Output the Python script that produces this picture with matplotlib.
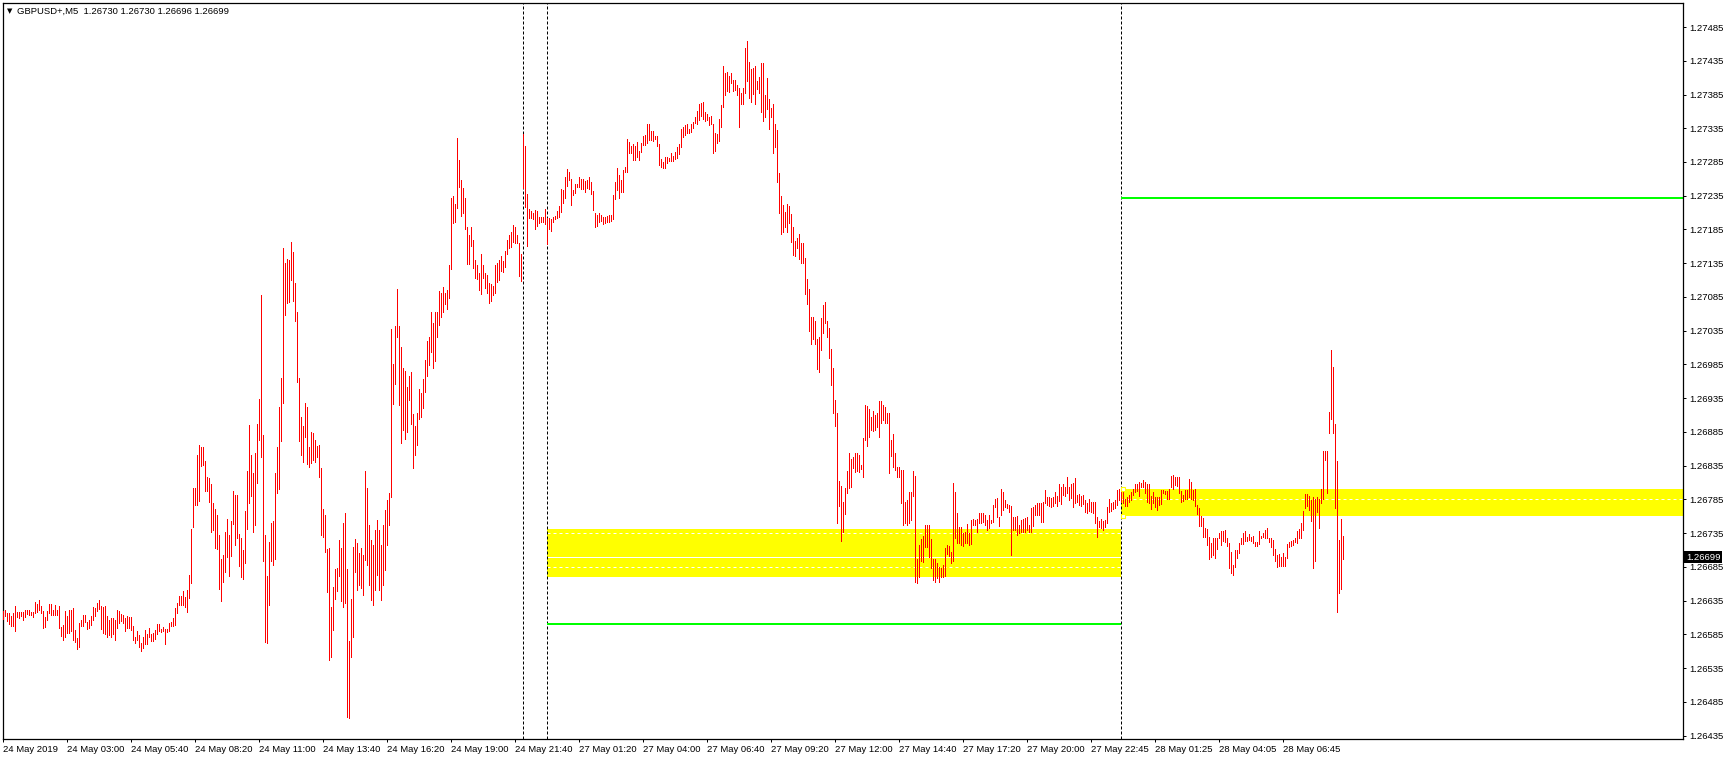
import numpy as np
import matplotlib
matplotlib.use("Agg")
import matplotlib.pyplot as plt
from matplotlib.patches import Rectangle
from matplotlib.transforms import blended_transform_factory

# GBPUSD+ M5 bars, high / low (bar index = x)
bar_high = [
    1.26620, 1.26621, 1.26617, 1.26617, 1.26612, 1.26617, 1.26627, 1.26618, 1.26618, 1.26618,
    1.26618, 1.26621, 1.26621, 1.26621, 1.26618, 1.26618, 1.26633, 1.26630, 1.26636, 1.26627,
    1.26620, 1.26611, 1.26620, 1.26630, 1.26630, 1.26621, 1.26628, 1.26621, 1.26627, 1.26596,
    1.26599, 1.26620, 1.26612, 1.26621, 1.26621, 1.26624, 1.26591, 1.26580, 1.26602, 1.26606,
    1.26614, 1.26614, 1.26603, 1.26606, 1.26612, 1.26625, 1.26624, 1.26631, 1.26636, 1.26627,
    1.26625, 1.26627, 1.26612, 1.26606, 1.26609, 1.26609, 1.26606, 1.26621, 1.26620, 1.26615,
    1.26614, 1.26609, 1.26612, 1.26611, 1.26611, 1.26597, 1.26581, 1.26590, 1.26584, 1.26572,
    1.26581, 1.26591, 1.26585, 1.26594, 1.26585, 1.26587, 1.26591, 1.26600, 1.26600, 1.26593,
    1.26596, 1.26593, 1.26593, 1.26602, 1.26603, 1.26609, 1.26624, 1.26631, 1.26642, 1.26642,
    1.26649, 1.26640, 1.26651, 1.26673, 1.26741, 1.26802, 1.26802, 1.26851, 1.26866, 1.26863,
    1.26863, 1.26842, 1.26818, 1.26817, 1.26808, 1.26780, 1.26771, 1.26762, 1.26732, 1.26697,
    1.26703, 1.26737, 1.26756, 1.26732, 1.26753, 1.26797, 1.26792, 1.26792, 1.26734, 1.26728,
    1.26710, 1.26768, 1.26827, 1.26895, 1.26851, 1.26824, 1.26854, 1.26897, 1.26934, 1.27088,
    1.26880, 1.26732, 1.26672, 1.26722, 1.26750, 1.26753, 1.26824, 1.26863, 1.26922, 1.26965,
    1.27158, 1.27135, 1.27141, 1.27140, 1.27166, 1.27152, 1.27106, 1.27063, 1.26965, 1.26907,
    1.26894, 1.26928, 1.26922, 1.26863, 1.26885, 1.26883, 1.26873, 1.26864, 1.26866, 1.26832,
    1.26771, 1.26762, 1.26712, 1.26713, 1.26625, 1.26655, 1.26682, 1.26683, 1.26725, 1.26713,
    1.26750, 1.26765, 1.26682, 1.26575, 1.26637, 1.26714, 1.26726, 1.26720, 1.26706, 1.26713,
    1.26703, 1.26827, 1.26802, 1.26747, 1.26725, 1.26717, 1.26740, 1.26754, 1.26740, 1.26717,
    1.26747, 1.26769, 1.26784, 1.26794, 1.27037, 1.26986, 1.27042, 1.27097, 1.27042, 1.27011,
    1.26980, 1.26975, 1.26952, 1.26968, 1.26974, 1.26912, 1.26894, 1.26913, 1.26949, 1.26943,
    1.26963, 1.26992, 1.27020, 1.27026, 1.27063, 1.27046, 1.27063, 1.27063, 1.27094, 1.27091,
    1.27100, 1.27091, 1.27095, 1.27132, 1.27232, 1.27235, 1.27223, 1.27321, 1.27288, 1.27258,
    1.27246, 1.27232, 1.27189, 1.27177, 1.27189, 1.27169, 1.27140, 1.27132, 1.27120, 1.27149,
    1.27132, 1.27120, 1.27117, 1.27106, 1.27104, 1.27101, 1.27132, 1.27135, 1.27140, 1.27146,
    1.27138, 1.27153, 1.27169, 1.27177, 1.27181, 1.27192, 1.27189, 1.27177, 1.27165, 1.27149,
    1.27326, 1.27309, 1.27238, 1.27215, 1.27212, 1.27209, 1.27214, 1.27212, 1.27203, 1.27203,
    1.27203, 1.27215, 1.27202, 1.27202, 1.27200, 1.27203, 1.27205, 1.27212, 1.27220, 1.27245,
    1.27243, 1.27263, 1.27275, 1.27270, 1.27260, 1.27243, 1.27252, 1.27252, 1.27263, 1.27260,
    1.27260, 1.27257, 1.27258, 1.27263, 1.27255, 1.27242, 1.27209, 1.27206, 1.27209, 1.27206,
    1.27203, 1.27203, 1.27205, 1.27206, 1.27206, 1.27236, 1.27255, 1.27276, 1.27266, 1.27258,
    1.27273, 1.27278, 1.27319, 1.27315, 1.27309, 1.27312, 1.27309, 1.27315, 1.27301, 1.27313,
    1.27323, 1.27325, 1.27341, 1.27341, 1.27331, 1.27331, 1.27323, 1.27323, 1.27312, 1.27289,
    1.27285, 1.27292, 1.27292, 1.27291, 1.27298, 1.27294, 1.27300, 1.27307, 1.27312, 1.27334,
    1.27337, 1.27340, 1.27341, 1.27334, 1.27341, 1.27344, 1.27352, 1.27361, 1.27371, 1.27372,
    1.27374, 1.27359, 1.27356, 1.27352, 1.27353, 1.27341, 1.27328, 1.27326, 1.27349, 1.27369,
    1.27427, 1.27417, 1.27418, 1.27412, 1.27417, 1.27406, 1.27406, 1.27399, 1.27395, 1.27387,
    1.27395, 1.27454, 1.27464, 1.27433, 1.27423, 1.27424, 1.27427, 1.27405, 1.27411, 1.27432,
    1.27432, 1.27384, 1.27409, 1.27378, 1.27365, 1.27371, 1.27341, 1.27332, 1.27269, 1.27235,
    1.27221, 1.27211, 1.27223, 1.27220, 1.27208, 1.27189, 1.27168, 1.27172, 1.27178, 1.27165,
    1.27165, 1.27143, 1.27112, 1.27097, 1.27055, 1.27055, 1.27049, 1.27023, 1.27026, 1.27054,
    1.27073, 1.27078, 1.27049, 1.27039, 1.27008, 1.26980, 1.26932, 1.26913, 1.26812, 1.26805,
    1.26781, 1.26802, 1.26827, 1.26854, 1.26845, 1.26848, 1.26854, 1.26854, 1.26851, 1.26836,
    1.26876, 1.26925, 1.26923, 1.26919, 1.26907, 1.26916, 1.26910, 1.26913, 1.26931, 1.26931,
    1.26925, 1.26922, 1.26913, 1.26913, 1.26873, 1.26882, 1.26854, 1.26833, 1.26833, 1.26829,
    1.26829, 1.26781, 1.26784, 1.26796, 1.26796, 1.26827, 1.26820, 1.26697, 1.26717, 1.26726,
    1.26731, 1.26747, 1.26747, 1.26747, 1.26726, 1.26697, 1.26697, 1.26691, 1.26685, 1.26683,
    1.26688, 1.26713, 1.26717, 1.26716, 1.26707, 1.26809, 1.26796, 1.26765, 1.26744, 1.26744,
    1.26735, 1.26737, 1.26749, 1.26735, 1.26754, 1.26756, 1.26754, 1.26756, 1.26765, 1.26765,
    1.26765, 1.26762, 1.26754, 1.26762, 1.26754, 1.26777, 1.26786, 1.26787, 1.26759, 1.26800,
    1.26796, 1.26784, 1.26778, 1.26777, 1.26775, 1.26759, 1.26759, 1.26760, 1.26747, 1.26754,
    1.26756, 1.26757, 1.26759, 1.26747, 1.26772, 1.26774, 1.26777, 1.26780, 1.26780, 1.26780,
    1.26781, 1.26799, 1.26789, 1.26789, 1.26787, 1.26789, 1.26796, 1.26790, 1.26808, 1.26803,
    1.26808, 1.26803, 1.26818, 1.26803, 1.26808, 1.26809, 1.26817, 1.26792, 1.26793, 1.26790,
    1.26792, 1.26784, 1.26780, 1.26786, 1.26781, 1.26781, 1.26781, 1.26759, 1.26753, 1.26756,
    1.26753, 1.26754, 1.26774, 1.26786, 1.26780, 1.26781, 1.26784, 1.26799, 1.26800, 1.26803,
    1.26797, 1.26786, 1.26789, 1.26792, 1.26796, 1.26800, 1.26808, 1.26808, 1.26811, 1.26809,
    1.26814, 1.26811, 1.26808, 1.26808, 1.26790, 1.26796, 1.26789, 1.26789, 1.26789, 1.26799,
    1.26799, 1.26797, 1.26797, 1.26800, 1.26820, 1.26821, 1.26818, 1.26818, 1.26818, 1.26797,
    1.26792, 1.26799, 1.26799, 1.26815, 1.26811, 1.26799, 1.26800, 1.26777, 1.26772, 1.26760,
    1.26757, 1.26743, 1.26741, 1.26729, 1.26720, 1.26728, 1.26728, 1.26728, 1.26735, 1.26738,
    1.26738, 1.26740, 1.26728, 1.26720, 1.26707, 1.26688, 1.26710, 1.26710, 1.26720, 1.26728,
    1.26735, 1.26738, 1.26729, 1.26734, 1.26729, 1.26731, 1.26722, 1.26722, 1.26738, 1.26731,
    1.26735, 1.26740, 1.26743, 1.26728, 1.26728, 1.26725, 1.26712, 1.26703, 1.26704, 1.26700,
    1.26706, 1.26700, 1.26719, 1.26722, 1.26723, 1.26725, 1.26728, 1.26738, 1.26741, 1.26750,
    1.26768, 1.26793, 1.26793, 1.26790, 1.26784, 1.26789, 1.26786, 1.26789, 1.26786, 1.26800,
    1.26857, 1.26857, 1.26857, 1.26915, 1.27006, 1.26981, 1.26897, 1.26842, 1.26725, 1.26756,
    1.26730,
]
bar_low = [
    1.26608, 1.26612, 1.26605, 1.26600, 1.26597, 1.26597, 1.26590, 1.26611, 1.26609, 1.26612,
    1.26606, 1.26611, 1.26615, 1.26614, 1.26614, 1.26611, 1.26617, 1.26618, 1.26621, 1.26617,
    1.26594, 1.26596, 1.26606, 1.26617, 1.26614, 1.26614, 1.26614, 1.26614, 1.26594, 1.26583,
    1.26577, 1.26581, 1.26587, 1.26587, 1.26590, 1.26577, 1.26574, 1.26563, 1.26566, 1.26597,
    1.26597, 1.26603, 1.26593, 1.26594, 1.26599, 1.26606, 1.26612, 1.26620, 1.26623, 1.26593,
    1.26587, 1.26585, 1.26581, 1.26584, 1.26581, 1.26585, 1.26577, 1.26594, 1.26602, 1.26605,
    1.26602, 1.26590, 1.26594, 1.26594, 1.26591, 1.26577, 1.26572, 1.26577, 1.26566, 1.26560,
    1.26565, 1.26571, 1.26571, 1.26581, 1.26575, 1.26575, 1.26578, 1.26585, 1.26590, 1.26588,
    1.26590, 1.26571, 1.26588, 1.26590, 1.26597, 1.26597, 1.26599, 1.26617, 1.26628, 1.26628,
    1.26628, 1.26625, 1.26618, 1.26639, 1.26661, 1.26744, 1.26777, 1.26777, 1.26783, 1.26835,
    1.26836, 1.26797, 1.26797, 1.26781, 1.26737, 1.26740, 1.26713, 1.26712, 1.26652, 1.26634,
    1.26663, 1.26677, 1.26700, 1.26672, 1.26701, 1.26749, 1.26717, 1.26728, 1.26686, 1.26670,
    1.26667, 1.26691, 1.26741, 1.26780, 1.26790, 1.26737, 1.26747, 1.26809, 1.26873, 1.26848,
    1.26694, 1.26574, 1.26572, 1.26628, 1.26694, 1.26688, 1.26697, 1.26794, 1.26800, 1.26872,
    1.26928, 1.27058, 1.27076, 1.27077, 1.27110, 1.27079, 1.27049, 1.26959, 1.26872, 1.26851,
    1.26840, 1.26877, 1.26837, 1.26833, 1.26839, 1.26843, 1.26840, 1.26848, 1.26818, 1.26732,
    1.26729, 1.26707, 1.26648, 1.26547, 1.26551, 1.26591, 1.26637, 1.26649, 1.26672, 1.26634,
    1.26625, 1.26631, 1.26463, 1.26461, 1.26551, 1.26581, 1.26677, 1.26651, 1.26658, 1.26654,
    1.26643, 1.26695, 1.26688, 1.26658, 1.26636, 1.26628, 1.26651, 1.26673, 1.26651, 1.26636,
    1.26658, 1.26680, 1.26717, 1.26747, 1.26789, 1.26926, 1.26956, 1.27026, 1.26925, 1.26869,
    1.26888, 1.26875, 1.26885, 1.26932, 1.26897, 1.26832, 1.26851, 1.26866, 1.26904, 1.26907,
    1.26920, 1.26944, 1.26968, 1.26984, 1.27003, 1.26980, 1.26990, 1.27026, 1.27043, 1.27055,
    1.27063, 1.27075, 1.27067, 1.27083, 1.27126, 1.27195, 1.27196, 1.27217, 1.27248, 1.27205,
    1.27209, 1.27186, 1.27134, 1.27134, 1.27160, 1.27128, 1.27113, 1.27112, 1.27095, 1.27089,
    1.27113, 1.27098, 1.27091, 1.27076, 1.27079, 1.27088, 1.27091, 1.27107, 1.27110, 1.27123,
    1.27122, 1.27129, 1.27149, 1.27158, 1.27159, 1.27166, 1.27165, 1.27165, 1.27116, 1.27109,
    1.27246, 1.27218, 1.27160, 1.27202, 1.27202, 1.27200, 1.27186, 1.27190, 1.27195, 1.27196,
    1.27196, 1.27193, 1.27163, 1.27186, 1.27183, 1.27196, 1.27200, 1.27202, 1.27203, 1.27211,
    1.27224, 1.27232, 1.27249, 1.27258, 1.27221, 1.27236, 1.27239, 1.27248, 1.27248, 1.27245,
    1.27245, 1.27240, 1.27246, 1.27245, 1.27238, 1.27214, 1.27189, 1.27190, 1.27196, 1.27198,
    1.27193, 1.27195, 1.27196, 1.27196, 1.27198, 1.27200, 1.27230, 1.27243, 1.27232, 1.27240,
    1.27240, 1.27270, 1.27270, 1.27298, 1.27298, 1.27288, 1.27288, 1.27292, 1.27288, 1.27300,
    1.27310, 1.27310, 1.27313, 1.27318, 1.27318, 1.27316, 1.27319, 1.27309, 1.27281, 1.27278,
    1.27276, 1.27276, 1.27283, 1.27286, 1.27286, 1.27286, 1.27289, 1.27291, 1.27297, 1.27307,
    1.27322, 1.27325, 1.27328, 1.27328, 1.27329, 1.27335, 1.27343, 1.27341, 1.27347, 1.27353,
    1.27349, 1.27346, 1.27347, 1.27340, 1.27341, 1.27298, 1.27301, 1.27313, 1.27316, 1.27337,
    1.27366, 1.27384, 1.27390, 1.27389, 1.27402, 1.27390, 1.27392, 1.27384, 1.27337, 1.27371,
    1.27371, 1.27387, 1.27405, 1.27380, 1.27374, 1.27386, 1.27371, 1.27393, 1.27387, 1.27359,
    1.27346, 1.27352, 1.27363, 1.27334, 1.27352, 1.27298, 1.27307, 1.27255, 1.27209, 1.27178,
    1.27181, 1.27189, 1.27181, 1.27195, 1.27166, 1.27147, 1.27146, 1.27158, 1.27141, 1.27135,
    1.27135, 1.27089, 1.27075, 1.27035, 1.27015, 1.27023, 1.27015, 1.26978, 1.26974, 1.27006,
    1.27032, 1.27046, 1.27026, 1.26995, 1.26955, 1.26913, 1.26894, 1.26750, 1.26775, 1.26723,
    1.26737, 1.26763, 1.26794, 1.26802, 1.26803, 1.26832, 1.26826, 1.26827, 1.26826, 1.26830,
    1.26818, 1.26873, 1.26864, 1.26877, 1.26888, 1.26886, 1.26888, 1.26892, 1.26877, 1.26898,
    1.26903, 1.26898, 1.26898, 1.26824, 1.26849, 1.26833, 1.26829, 1.26818, 1.26818, 1.26780,
    1.26747, 1.26750, 1.26747, 1.26750, 1.26754, 1.26790, 1.26663, 1.26661, 1.26670, 1.26694,
    1.26692, 1.26714, 1.26714, 1.26700, 1.26683, 1.26666, 1.26663, 1.26669, 1.26663, 1.26670,
    1.26670, 1.26672, 1.26704, 1.26701, 1.26691, 1.26694, 1.26728, 1.26720, 1.26720, 1.26717,
    1.26716, 1.26720, 1.26720, 1.26717, 1.26719, 1.26747, 1.26747, 1.26737, 1.26750, 1.26750,
    1.26752, 1.26747, 1.26740, 1.26743, 1.26750, 1.26752, 1.26774, 1.26759, 1.26746, 1.26762,
    1.26769, 1.26774, 1.26772, 1.26766, 1.26703, 1.26740, 1.26740, 1.26732, 1.26735, 1.26737,
    1.26737, 1.26737, 1.26740, 1.26737, 1.26737, 1.26746, 1.26762, 1.26762, 1.26762, 1.26752,
    1.26752, 1.26780, 1.26777, 1.26775, 1.26774, 1.26775, 1.26780, 1.26775, 1.26783, 1.26778,
    1.26792, 1.26790, 1.26794, 1.26784, 1.26787, 1.26774, 1.26780, 1.26781, 1.26777, 1.26775,
    1.26778, 1.26766, 1.26765, 1.26768, 1.26766, 1.26765, 1.26750, 1.26729, 1.26744, 1.26743,
    1.26740, 1.26744, 1.26750, 1.26766, 1.26768, 1.26771, 1.26772, 1.26777, 1.26784, 1.26781,
    1.26780, 1.26775, 1.26775, 1.26781, 1.26784, 1.26792, 1.26796, 1.26797, 1.26790, 1.26803,
    1.26803, 1.26794, 1.26781, 1.26780, 1.26771, 1.26780, 1.26774, 1.26769, 1.26777, 1.26778,
    1.26794, 1.26793, 1.26786, 1.26786, 1.26803, 1.26800, 1.26806, 1.26805, 1.26794, 1.26781,
    1.26783, 1.26786, 1.26786, 1.26789, 1.26786, 1.26784, 1.26775, 1.26763, 1.26746, 1.26746,
    1.26729, 1.26729, 1.26717, 1.26697, 1.26700, 1.26703, 1.26698, 1.26712, 1.26728, 1.26717,
    1.26723, 1.26722, 1.26716, 1.26683, 1.26676, 1.26673, 1.26685, 1.26698, 1.26706, 1.26719,
    1.26719, 1.26723, 1.26723, 1.26725, 1.26723, 1.26720, 1.26716, 1.26716, 1.26719, 1.26728,
    1.26729, 1.26728, 1.26728, 1.26722, 1.26714, 1.26703, 1.26694, 1.26685, 1.26686, 1.26686,
    1.26686, 1.26686, 1.26698, 1.26714, 1.26716, 1.26717, 1.26722, 1.26720, 1.26728, 1.26728,
    1.26740, 1.26772, 1.26775, 1.26769, 1.26753, 1.26683, 1.26694, 1.26766, 1.26743, 1.26780,
    1.26786, 1.26843, 1.26794, 1.26883, 1.26904, 1.26883, 1.26772, 1.26618, 1.26646, 1.26652,
    1.26696,
]

title_text = "GBPUSD+,M5  1.26730 1.26730 1.26696 1.26699"
bid_price = 1.26699

time_labels = [
    "24 May 2019", "24 May 03:00", "24 May 05:40", "24 May 08:20", "24 May 11:00",
    "24 May 13:40", "24 May 16:20", "24 May 19:00", "24 May 21:40", "27 May 01:20",
    "27 May 04:00", "27 May 06:40", "27 May 09:20", "27 May 12:00", "27 May 14:40",
    "27 May 17:20", "27 May 20:00", "27 May 22:45", "28 May 01:25", "28 May 04:05",
    "28 May 06:45",
]
label_every = 32  # one time label every 32 bars

price_ticks = [
    1.27485, 1.27435, 1.27385, 1.27335, 1.27285, 1.27235, 1.27185, 1.27135, 1.27085, 1.27035,
    1.26985, 1.26935, 1.26885, 1.26835, 1.26785, 1.26735, 1.26685, 1.26635, 1.26585, 1.26535,
    1.26485, 1.26435,
]

separator_bars = [260, 272, 559]

# zones: (first bar, last bar, low price, high price)
zone_friday = (272, 559, 1.26670, 1.26741)
zone_monday = (559, 900, 1.26760, 1.26800)
zone_friday_dashes = [1.26735, 1.26685]
zone_monday_dashes = [1.26786]
green_low = (272, 559, 1.26601)
green_high = (559, 900, 1.27231)

W, H = 1729, 760
fig = plt.figure(figsize=(W / 100, H / 100), dpi=100)
fig.patch.set_facecolor("white")
ax = fig.add_axes([3 / W, 21 / H, 1680 / W, 736 / H])
ax.set_facecolor("white")

x = np.arange(len(bar_high))
ax.set_xlim(-0.15, 839.85)
ax.set_ylim(1.264299, 1.275206)

# objects behind the bars
for z in (zone_friday, zone_monday):
    ax.add_patch(Rectangle((z[0], z[2]), z[1] - z[0], z[3] - z[2],
                           facecolor="#ffff00", edgecolor="none", zorder=1))
ax.hlines(zone_friday_dashes, zone_friday[0], zone_friday[1], colors="white",
          linewidth=0.72, linestyles=(0, (3, 3)), zorder=1.5)
ax.hlines(zone_monday_dashes, zone_monday[0], zone_monday[1], colors="white",
          linewidth=0.72, linestyles=(0, (3, 3)), zorder=1.5)
ax.axhline(bid_price, color="white", linewidth=0.72, zorder=1.5)

for b in separator_bars:
    ax.axvline(b, color="black", linewidth=0.72, linestyle=(0, (3, 2)), zorder=1.6)

ax.hlines(green_low[2], green_low[0], green_low[1], colors="#00ff00", linewidth=1.44, zorder=1.7)
ax.hlines(green_high[2], green_high[0], green_high[1], colors="#00ff00", linewidth=1.44, zorder=1.7)

# price bars
ax.vlines(x, bar_low, bar_high, colors="#ff0000", linewidth=0.72, antialiased=False, zorder=3)

# selection handles of the Monday zone
ax.plot([zone_monday[0] + 1, zone_monday[0] + 1], [zone_monday[3], zone_monday[2]], "s",
        markersize=3, markerfacecolor="white", markeredgecolor="#ffff00",
        markeredgewidth=0.8, zorder=4)

for s in ax.spines.values():
    s.set_linewidth(0.9)
    s.set_color("black")

ax.yaxis.tick_right()
ax.set_yticks(price_ticks)
ax.set_yticklabels([f"{v:.5f}" for v in price_ticks])
ax.set_xticks(x[::label_every][:len(time_labels)])
ax.set_xticklabels(time_labels, ha="left")
ax.tick_params(axis="both", direction="out", length=2.5, width=0.72, labelsize=6.8,
               colors="black", labelfontfamily="Liberation Sans")
ax.tick_params(axis="y", pad=2)
ax.tick_params(axis="x", pad=2)

tr = blended_transform_factory(ax.transAxes, ax.transData)
ax.text(1.0017, bid_price, "1.26699", transform=tr, color="white", fontsize=6.8,
        family="Liberation Sans", ha="left", va="center", clip_on=False, zorder=10,
        bbox=dict(facecolor="black", edgecolor="none", boxstyle="square,pad=0.15"))

fig.text(9.5 / W, 1 - 11 / H, "\u25bc", fontsize=5, family="DejaVu Sans",
         ha="center", va="center")
fig.text(17 / W, 1 - 11 / H, title_text, fontsize=6.8, family="Liberation Sans",
         ha="left", va="center")

fig.savefig("out.png", dpi=100, facecolor="white")
